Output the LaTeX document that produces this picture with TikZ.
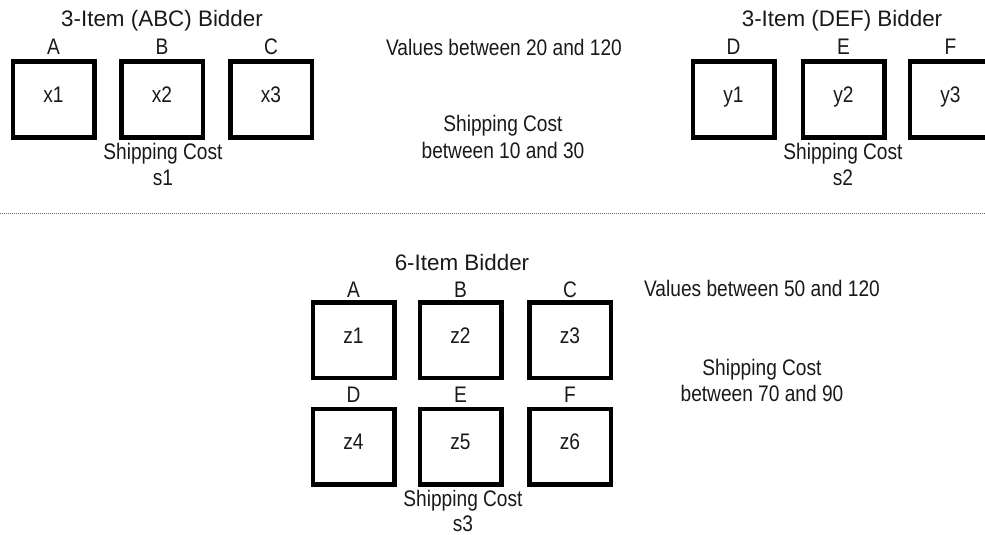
\documentclass[tikz,border=0pt]{standalone}
\usepackage{fontspec}
\setmainfont{Liberation Sans}[FakeStretch=0.85]
\newfontfamily\titlefont{Liberation Sans}
\begin{document}
\begin{tikzpicture}[x=1pt,y=-1pt,
  txt/.style={anchor=base,inner sep=0pt,text=black!90,font=\fontsize{22.5}{26}\selectfont},
  ttl/.style={anchor=base,inner sep=0pt,text=black!90,font=\titlefont\fontsize{22.4}{26}\selectfont},
  itembox/.style={draw=black,line width=4.5pt,minimum width=81.5pt,minimum height=75.5pt,inner sep=0pt,
    text height=16pt,text depth=10pt,text=black!90,font=\fontsize{22.5}{26}\selectfont},
  sep/.style={draw=black!60,line width=1pt,dash pattern=on 1pt off 1pt}]
\useasboundingbox (0,0) rectangle (985,535);
\clip (0,0) rectangle (985,535);
% --- ABC bidder
\node[ttl] (tabc) at (162,27) {3-Item (ABC) Bidder};
\node[itembox] (x1) at (53.5,99.5) {x1};
\node[itembox] (x2) at (162,99.5) {x2};
\node[itembox] (x3) at (271,99.5) {x3};
\node[txt] (la) at (53.5,55) {A};
\node[txt] (lb) at (162,55) {B};
\node[txt] (lc) at (271,55) {C};
\node[txt] (sc1) at (163,159) {Shipping Cost};
\node[txt] (s1) at (163,185) {s1};
% --- middle info
\node[txt] (v1) at (504,56) {Values between 20 and 120};
\node[txt] (sh1) at (503,131) {Shipping Cost};
\node[txt] (sh1b) at (503,158) {between 10 and 30};
% --- DEF bidder
\node[ttl] (tdef) at (842,27) {3-Item (DEF) Bidder};
\node[itembox] (y1) at (733.5,99.5) {y1};
\node[itembox] (y2) at (843.5,99.5) {y2};
\node[itembox] (y3) at (950.5,99.5) {y3};
\node[txt] (ld) at (733.5,55) {D};
\node[txt] (le) at (843.5,55) {E};
\node[txt] (lf) at (950.5,55) {F};
\node[txt] (sc2) at (843,159) {Shipping Cost};
\node[txt] (s2) at (843,185) {s2};
% --- separator
\coordinate (sepl) at (0,213);
\coordinate (sepr) at (985,213);
\draw[sep] (sepl) -- (sepr);
% --- 6-item bidder
\node[ttl] (tsix) at (462,270) {6-Item Bidder};
\node[itembox] (z1) at (353.5,340) {z1};
\node[itembox] (z2) at (460.5,340) {z2};
\node[itembox] (z3) at (570,340) {z3};
\node[itembox] (z4) at (353.5,446.5) {z4};
\node[itembox] (z5) at (460.5,446.5) {z5};
\node[itembox] (z6) at (570,446.5) {z6};
\node[txt] (lza) at (353.5,297) {A};
\node[txt] (lzb) at (460.5,297) {B};
\node[txt] (lzc) at (570,297) {C};
\node[txt] (lzd) at (353.5,402) {D};
\node[txt] (lze) at (460.5,402) {E};
\node[txt] (lzf) at (570,402) {F};
\node[txt] (sc3) at (463,506) {Shipping Cost};
\node[txt] (s3) at (463,531) {s3};
\node[txt] (v2) at (762,296) {Values between 50 and 120};
\node[txt] (sh2) at (762,375) {Shipping Cost};
\node[txt] (sh2b) at (762,401) {between 70 and 90};
\end{tikzpicture}
\end{document}
